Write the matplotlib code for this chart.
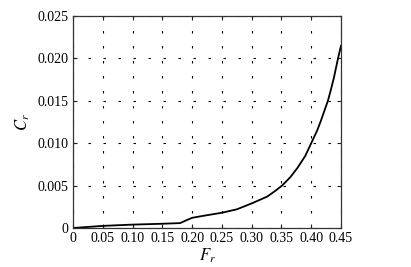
import matplotlib
matplotlib.use("Agg")
import matplotlib.pyplot as plt
import numpy as np

Fr = [0, 0.02, 0.05, 0.10, 0.15, 0.18, 0.19, 0.20, 0.22, 0.25, 0.275, 0.30, 0.313, 0.326,
      0.34, 0.351, 0.365, 0.377, 0.39, 0.40, 0.41, 0.416, 0.428, 0.433, 0.438, 0.445, 0.45]
Cr = [0, 0.0001, 0.00025, 0.0004, 0.0005, 0.00058, 0.0009, 0.0012, 0.00145, 0.0018, 0.0022,
      0.0029, 0.0033, 0.0037, 0.0044, 0.0050, 0.0060, 0.0071, 0.0085, 0.0100, 0.0115,
      0.0126, 0.0150, 0.0163, 0.0177, 0.0200, 0.0215]
xticks = [0, 0.05, 0.10, 0.15, 0.20, 0.25, 0.30, 0.35, 0.40, 0.45]
xticklabels = ["0", "0.05", "0.10", "0.15", "0.20", "0.25", "0.30", "0.35", "0.40", "0.45"]
yticks = [0, 0.005, 0.010, 0.015, 0.020, 0.025]
yticklabels = ["0", "0.005", "0.010", "0.015", "0.020", "0.025"]

plt.rcParams['font.family'] = ['Liberation Serif', 'DejaVu Serif']
plt.rcParams['mathtext.fontset'] = 'stix'

fig = plt.figure(figsize=(4.11, 2.67), dpi=100)
ax = fig.add_axes([73/411, 1 - 228/267, (341-73)/411, (228-16)/267])
ax.plot(Fr, Cr, color='black', lw=1.3, solid_joinstyle='round')
ax.set_xlim(0, 0.45)
ax.set_ylim(0, 0.025)
ax.set_xticks(xticks)
ax.set_xticklabels(xticklabels)
ax.set_yticks(yticks)
ax.set_yticklabels(yticklabels)
ax.tick_params(direction='in', length=3, labelsize=10, width=0.8, pad=3,
               top=True, right=True, colors='#222222', labelcolor='black')
ax.grid(True, color='black', lw=0.8, linestyle=(0, (2.2, 11.3)))
for s in ax.spines.values():
    s.set_linewidth(0.9)
    s.set_color('#333333')
ax.set_xlabel(r'$F_r$', fontsize=12, labelpad=1)
ax.set_ylabel(r'$C_r$', fontsize=12, labelpad=4)
fig.savefig('out.png', dpi=100)
